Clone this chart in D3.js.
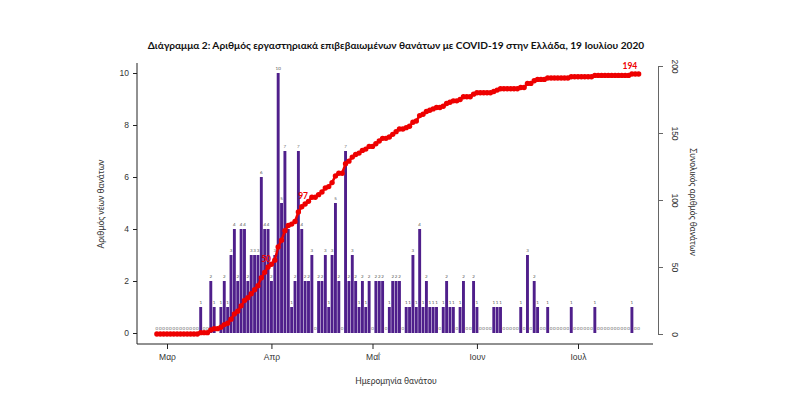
<!DOCTYPE html>
<html>
<head>
<meta charset="utf-8">
<script src="https://cdn.jsdelivr.net/npm/d3@7"></script>
<style>
  body { margin: 0; background: #fff; }
  svg { display: block; font-family: Lato, "Open Sans", sans-serif; }
  .tick text { fill: #333; }
</style>
</head>
<body>
<div id="chart"></div>
<script>
// Daily lab-confirmed COVID-19 deaths in Greece, starting 27 Feb 2020
const startDate = Date.UTC(2020, 1, 27);
const dailyDeaths = [
  0, 0, 0, 0, 0, 0, 0, 0, 0, 0, 0, 0, 0,
  1, 0, 0, 2, 1, 0, 1, 2, 1, 3,
  4, 2, 4, 4, 2, 3, 3, 3, 6, 4,
  4, 2, 3, 10, 5, 7, 4, 1, 2, 7,
  4, 2, 2, 3, 0, 2, 2, 3, 1, 3,
  5, 2, 0, 7, 2, 3, 2, 1, 2, 1,
  2, 0, 2, 2, 2, 0, 1, 2, 2, 2,
  0, 1, 1, 3, 1, 4, 1, 2, 1, 1,
  1, 0, 1, 2, 1, 1, 0, 1, 2, 0,
  0, 2, 1, 0, 0, 0, 0, 1, 1, 1,
  0, 0, 0, 0, 0, 1, 0, 3, 0, 2,
  1, 0, 0, 1, 0, 0, 0, 0, 0, 0,
  1, 0, 0, 0, 0, 0, 0, 1, 0, 0,
  0, 0, 0, 0, 0, 0, 0, 0, 1, 0,
  0
];
const monthTicks = [Date.UTC(2020, 2, 1), Date.UTC(2020, 3, 1), Date.UTC(2020, 4, 1), Date.UTC(2020, 5, 1), Date.UTC(2020, 6, 1)];
const monthLabels = ['Μαρ', 'Απρ', 'Μαΐ', 'Ιουν', 'Ιουλ'];
const leftTicks = [0, 2, 4, 6, 8, 10];
const rightTicks = [0, 50, 100, 150, 200];
const highlightTotals = [50, 97, 194];

const titleText = 'Διάγραμμα 2: Αριθμός εργαστηριακά επιβεβαιωμένων θανάτων με COVID-19 στην Ελλάδα, 19 Ιουλίου 2020';

const DAY = 86400e3;
let run = 0;
const data = dailyDeaths.map((v, i) => {
  run += v;
  return { date: new Date(startDate + i * DAY), value: v, total: run };
});

const W = 785, H = 396;
const svg = d3.select('#chart').append('svg').attr('width', W).attr('height', H);

// plot frame (R style L-box)
const frame = { left: 137, right: 653, top: 63, bottom: 344 };

const x = d3.scaleUtc().domain([monthTicks[0], monthTicks[4]]).range([167, 578]);
const yL = d3.scaleLinear().domain([0, 10]).range([333, 73]);
const yR = d3.scaleLinear().domain([0, 200]).range([334, 66]);
const bw = (x(new Date(startDate + DAY)) - x(new Date(startDate))) * 0.86;

const purple = '#4f1f8b';
const red = '#ee0000';

// bars
svg.append('g').selectAll('rect').data(data.filter((d) => d.value > 0)).join('rect')
  .attr('x', (d) => x(d.date) - bw / 2)
  .attr('width', bw)
  .attr('y', (d) => yL(d.value))
  .attr('height', (d) => yL(0) - yL(d.value))
  .attr('fill', purple);

// tiny value labels above each bar
svg.append('g').selectAll('text').data(data).join('text')
  .attr('x', (d) => x(d.date))
  .attr('y', (d) => yL(d.value) - 3)
  .attr('text-anchor', 'middle')
  .attr('font-size', 4.5)
  .attr('fill', (d) => d.value === 0 ? '#666' : '#555')
  .text((d) => d.value);

// cumulative line with dots
const line = d3.line().x((d) => x(d.date)).y((d) => yR(d.total));
svg.append('path').datum(data).attr('d', line)
  .attr('fill', 'none').attr('stroke', red).attr('stroke-width', 2.5);
svg.append('g').selectAll('circle').data(data).join('circle')
  .attr('cx', (d) => x(d.date)).attr('cy', (d) => yR(d.total))
  .attr('r', 2.7).attr('fill', red);

// red labels on selected totals
const labelled = highlightTotals.map((t) => data.find((d) => d.total === t));
svg.append('g').selectAll('text').data(labelled).join('text')
  .attr('x', (d) => x(d.date) - 2)
  .attr('y', (d) => yR(d.total) - 5)
  .attr('text-anchor', 'middle')
  .attr('font-size', 8.5).attr('font-weight', 'bold')
  .attr('fill', red)
  .text((d) => d.total);

// axes frame lines
svg.append('line').attr('x1', frame.left).attr('x2', frame.left)
  .attr('y1', frame.top).attr('y2', frame.bottom).attr('stroke', '#222');
svg.append('line').attr('x1', frame.left).attr('x2', frame.right)
  .attr('y1', frame.bottom).attr('y2', frame.bottom).attr('stroke', '#222');

// left axis
const axL = svg.append('g').attr('transform', `translate(${frame.left},0)`)
  .call(d3.axisLeft(yL).tickValues(leftTicks).tickSize(4).tickPadding(4));
axL.select('.domain').remove();
axL.selectAll('text').attr('font-size', 8.5).attr('font-family', null);
axL.selectAll('line').attr('stroke', '#222');

// bottom axis
const axB = svg.append('g').attr('transform', `translate(0,${frame.bottom})`)
  .call(d3.axisBottom(x).tickValues(monthTicks.map((t) => new Date(t)))
    .tickFormat((d, i) => monthLabels[i]).tickSize(5).tickPadding(5));
axB.select('.domain').remove();
axB.selectAll('text').attr('font-size', 8.5).attr('font-family', null);
axB.selectAll('line').attr('stroke', '#222');

// right axis
const axR = svg.append('g').attr('transform', 'translate(658,0)')
  .call(d3.axisRight(yR).tickValues(rightTicks).tickSize(5).tickSizeOuter(0));
axR.select('.domain').attr('stroke', '#666');
axR.selectAll('line').attr('stroke', '#666');
axR.selectAll('text')
  .attr('font-size', 8.5).attr('font-family', null)
  .attr('x', 0).attr('dy', null).attr('y', 0)
  .attr('text-anchor', 'middle')
  .attr('transform', 'translate(14,0) rotate(90)');

// titles
const title = svg.append('text')
  .attr('x', 396).attr('y', 49).attr('text-anchor', 'middle')
  .attr('font-weight', 'bold').attr('font-size', 10).attr('fill', '#111')
  .text(titleText);
const tw = title.node().getComputedTextLength();
title.attr('font-size', 10 * 497 / tw);

svg.append('text')
  .attr('transform', 'translate(104,204) rotate(-90)')
  .attr('text-anchor', 'middle').attr('font-size', 8.5).attr('fill', '#333')
  .text('Αριθμός νέων θανάτων');

svg.append('text')
  .attr('transform', 'translate(690,202) rotate(90)')
  .attr('text-anchor', 'middle').attr('font-size', 8.5).attr('fill', '#333')
  .text('Συνολικός αριθμός θανάτων');

svg.append('text')
  .attr('x', 396).attr('y', 384).attr('text-anchor', 'middle')
  .attr('font-size', 8.5).attr('fill', '#333')
  .text('Ημερομηνία θανάτου');
</script>
</body>
</html>
